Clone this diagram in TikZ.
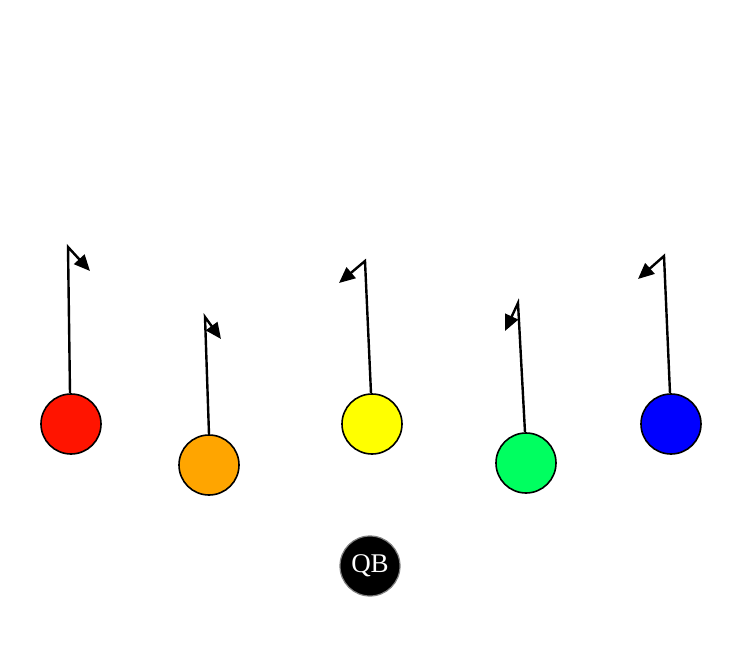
\documentclass[tikz,border=0pt]{standalone}
\usepackage{fontspec}
\setmainfont{Liberation Serif}
\usetikzlibrary{arrows.meta}
\definecolor{pred}{RGB}{255,20,0}
\definecolor{porange}{RGB}{255,165,0}
\definecolor{pyellow}{RGB}{255,255,0}
\definecolor{pgreen}{RGB}{0,255,96}
\definecolor{pblue}{RGB}{0,0,255}
\tikzset{
  player/.style={circle, draw=black, line width=1.6pt, minimum size=60pt, inner sep=0pt},
  route/.style={line width=2.4pt, line join=miter, -{Triangle[length=16pt,width=14pt]}},
  qbstyle/.style={circle, fill=black, draw=gray, line width=1.2pt, minimum size=60pt, inner sep=0pt, text=white},
}
\begin{document}
\begin{tikzpicture}[x=1pt,y=-1pt]
\useasboundingbox (0,0) rectangle (750,655);
\node[player, fill=pred] (r) at (71,424) {};
\node[player, fill=porange] (o) at (209,465) {};
\node[player, fill=pyellow] (y) at (372,424) {};
\node[player, fill=pgreen] (g) at (526,463) {};
\node[player, fill=pblue] (b) at (671,424) {};
\node[qbstyle] (qb) at (370,566) {\fontsize{27}{31}\selectfont QB};
\coordinate (r1) at (68,247); \coordinate (r2) at (90,271);
\coordinate (o1) at (205,317); \coordinate (o2) at (221,339);
\coordinate (y1) at (365,261); \coordinate (y2) at (339,283);
\coordinate (g1) at (518,303); \coordinate (g2) at (505,331);
\coordinate (b1) at (664,256); \coordinate (b2) at (638,279);
\draw[route] ([xshift=-1pt]r.north) -- (r1) -- (r2);
\draw[route] (o.north) -- (o1) -- (o2);
\draw[route] ([xshift=-1pt]y.north) -- (y1) -- (y2);
\draw[route] ([xshift=-1pt]g.north) -- (g1) -- (g2);
\draw[route] ([xshift=-1pt]b.north) -- (b1) -- (b2);
\end{tikzpicture}
\end{document}
